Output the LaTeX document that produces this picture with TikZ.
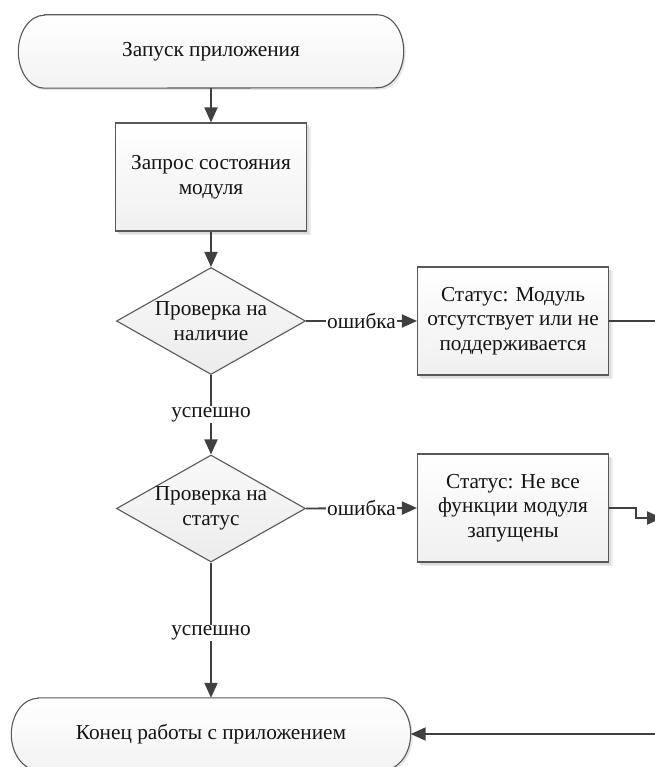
\documentclass[tikz,border=0pt]{standalone}
\usepackage{fontspec}
\setmainfont{Liberation Serif}
\usetikzlibrary{arrows.meta,shapes.geometric,shadows,backgrounds}

\definecolor{lineclr}{HTML}{404040}
\definecolor{edgeclr}{HTML}{585858}
\definecolor{txtclr}{HTML}{141414}

% outline of a terminator (stadium with elliptic ends) around a named node
\newcommand\terminatoroutline[3]{% #1 node, #2 end x radius, #3 half height
  \path[termshape]
    ([xshift=#2]#1.north west) -- ([xshift=-#2]#1.north east)
    arc[start angle=90, end angle=-90, x radius=#2, y radius=#3]
    -- ([xshift=#2]#1.south west)
    arc[start angle=270, end angle=90, x radius=#2, y radius=#3]
    -- cycle;}

\begin{document}
\begin{tikzpicture}[x=1pt, y=1pt,
  every node/.style={font=\fontsize{21.3}{24.5}\selectfont, text=txtclr},
  flow/.style={draw=lineclr, line width=1.9pt, -{Triangle[length=15pt,width=13pt]}},
  link/.style={draw=lineclr, line width=1.9pt},
  softshadow/.style={
    drop shadow={shadow xshift=4pt, shadow yshift=-4pt, fill=black!7, opacity=1},
    drop shadow={shadow xshift=2.5pt, shadow yshift=-2.5pt, fill=black!14, opacity=1}},
  procbox/.style={rectangle, draw=edgeclr, line width=1.1pt,
    top color=white, bottom color=gray!12,
    minimum width=191pt, minimum height=108pt, align=center, softshadow},
  decision/.style={diamond, draw=edgeclr, line width=1.1pt,
    top color=gray!5, bottom color=gray!15,
    minimum width=189pt, minimum height=107pt, aspect=1.77,
    inner sep=-2pt, align=center},
  termtext/.style={rectangle, minimum height=73pt},
  termshape/.style={draw=edgeclr, line width=1.1pt, top color=white, bottom color=gray!10,
    drop shadow={shadow xshift=2pt, shadow yshift=-2pt, fill=black!10, opacity=1}},
  lbl/.style={fill=white, inner sep=1pt}
]
\useasboundingbox (0,0) rectangle (654,-767);
\begin{scope}[on background layer]
  \fill[white] (0,0) rectangle (654,-767);
\end{scope}

% nodes
\node[termtext, minimum width=385pt] (start) at (211,-51.5) {Запуск приложения};
\node[procbox] (query) at (211,-177) {Запрос состояния\\модуля};
\node[decision] (chk1) at (211,-321) {Проверка на\\наличие};
\node[procbox] (st1) at (513,-321) {Статус: Модуль\\отсутствует или не\\поддерживается};
\node[decision] (chk2) at (211,-508.5) {Проверка на\\статус};
\node[procbox] (st2) at (513,-508) {Статус: Не все\\функции модуля\\запущены};
\node[termtext, minimum width=399pt, minimum height=72pt] (fin) at (211,-734) {Конец работы с приложением};

\begin{scope}[on background layer]
  \terminatoroutline{start}{26pt}{36.5pt}
  \terminatoroutline{fin}{27pt}{36pt}
\end{scope}

% free ends leaving the sheet on the right
\coordinate (off1) at (660,-321);
\coordinate (jog) at (636,-508);
\coordinate (off2) at (662,-518);
\coordinate (off3) at (660,-734);

% connectors
\draw[flow] (start.south) -- (query.north);
\draw[flow] (query.south) -- (chk1.north);
\draw[flow] (chk1.east) -- node[lbl]{ошибка} (st1.west);
\draw[flow] (chk1.south) -- node[lbl]{успешно} (chk2.north);
\draw[link] (st1.east) -- (off1);
\draw[flow] (chk2.east) -- node[lbl]{ошибка} (st2.west);
\draw[flow] (st2.east) -- (jog) |- (off2);
\draw[flow] (chk2.south) -- node[lbl, pos=0.52]{успешно} (fin.north);
\draw[flow] (off3) -- (fin.east);
\end{tikzpicture}
\end{document}
